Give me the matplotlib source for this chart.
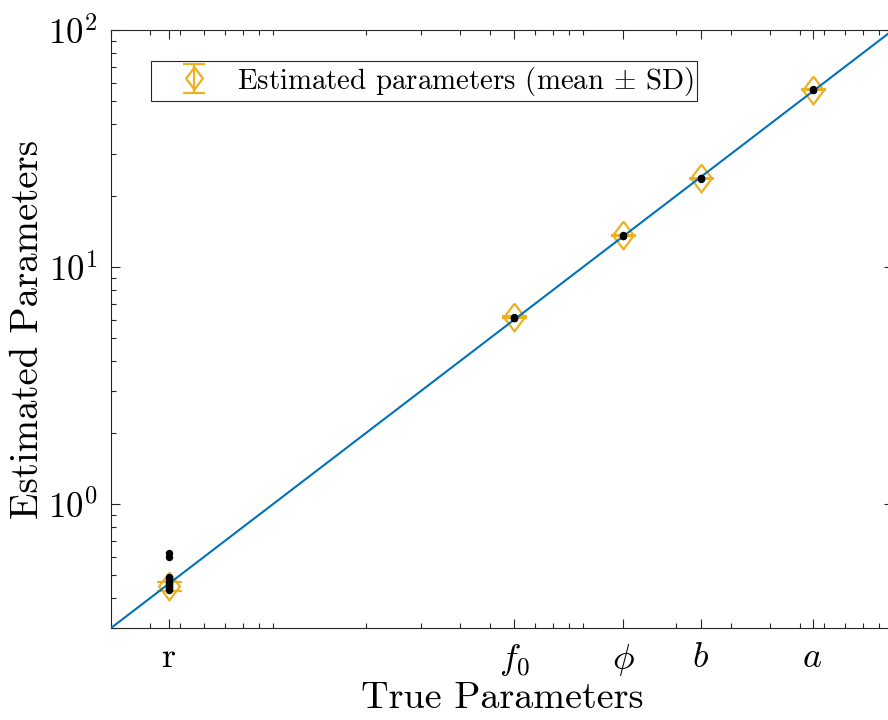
import numpy as np
import matplotlib
matplotlib.use("Agg")
import matplotlib.pyplot as plt
from matplotlib.ticker import FixedLocator, LogLocator, NullFormatter

plt.rcParams['font.family'] = 'serif'
plt.rcParams['font.serif'] = ['cmr10', 'DejaVu Serif']
plt.rcParams['mathtext.fontset'] = 'cm'
plt.rcParams['axes.formatter.use_mathtext'] = True
plt.rcParams['axes.unicode_minus'] = False

# ---- data ----
param_labels = ['r', r'$f_0$', r'$\phi$', r'$b$', r'$a$']
true_values = [0.46, 6.0, 13.5, 24.0, 55.0]
est_mean = [0.449, 6.15, 13.6, 23.7, 56.0]
est_sd = [0.02, 0.05, 0.08, 0.1, 0.2]
est_r = [0.436, 0.440, 0.444, 0.448, 0.452, 0.456, 0.460, 0.465, 0.470, 0.476, 0.483, 0.490, 0.598, 0.622]
est_f0 = [6.08, 6.1, 6.12, 6.15]
est_phi = [13.5, 13.55, 13.6]
est_b = [23.6, 23.7, 23.8]
est_a = [55.6, 56.0, 56.3]
est_samples = [est_r, est_f0, est_phi, est_b, est_a]
ref_line = [0.3, 100.0]

blue = '#0072BD'
orange = '#EDB120'
spine_col = '#262626'

fig = plt.figure(figsize=(8.88, 7.2), dpi=100)
ax = fig.add_axes([111/888, 92/720, 782/888, 598/720])

diamond = [(0, 1), (0.75, 0), (0, -1), (-0.75, 0), (0, 1)]
ax.errorbar(true_values, est_mean, yerr=est_sd, fmt='none', ecolor=orange,
            elinewidth=1.5, capsize=9, capthick=1.5, zorder=2)
ax.plot(true_values, est_mean, linestyle='none', marker=diamond, markersize=20,
        markerfacecolor='none', markeredgecolor=orange, markeredgewidth=1.6, zorder=2)
ax.plot(ref_line, ref_line, color=blue, lw=1.5, zorder=3)
for tv, samples in zip(true_values, est_samples):
    ax.plot([tv] * len(samples), samples, linestyle='none', marker='o',
            markersize=4.3, color='black', zorder=4)

# legend proxy (not visible in the data area)
leg_eb = ax.errorbar([np.nan], [np.nan], yerr=[1], linestyle='none', marker=diamond,
                     markersize=16, markerfacecolor='none', markeredgecolor=orange,
                     markeredgewidth=1.6, ecolor=orange, elinewidth=1.5, capsize=8,
                     capthick=1.5, color=orange)
leg = ax.legend([leg_eb], ['Estimated parameters (mean $\\pm$ SD)'],
                loc='upper left', bbox_to_anchor=(0.0512, 0.948), borderaxespad=0,
                fontsize=20.8, frameon=True, fancybox=False, framealpha=1,
                edgecolor=spine_col, handlelength=2.75, handletextpad=0.1,
                borderpad=0.12)
leg.get_frame().set_linewidth(0.8)

ax.set_xscale('log')
ax.set_yscale('log')
ax.set_xlim(0.3, 100)
ax.set_ylim(0.3, 100)

ax.xaxis.set_major_locator(FixedLocator(true_values))
ax.set_xticklabels(param_labels)
ax.xaxis.set_minor_locator(LogLocator(base=10, subs=np.arange(1, 10), numticks=50))
ax.xaxis.set_minor_formatter(NullFormatter())
ax.yaxis.set_major_locator(LogLocator(base=10, numticks=10))
ax.yaxis.set_minor_locator(LogLocator(base=10, subs=np.arange(2, 10), numticks=50))
ax.yaxis.set_minor_formatter(NullFormatter())

ax.tick_params(which='both', direction='in', top=True, right=True, color=spine_col,
               width=0.8)
ax.tick_params(which='major', length=6.5, pad=10)
ax.tick_params(axis='y', which='major', labelsize=25)
ax.tick_params(axis='x', which='major', labelsize=26)
ax.tick_params(which='minor', length=3.5)
for sp in ax.spines.values():
    sp.set_color(spine_col)
    sp.set_linewidth(0.8)

ax.set_xlabel('True Parameters', fontsize=27.5, labelpad=3)
ax.set_ylabel('Estimated Parameters', fontsize=28, labelpad=1)

fig.savefig('out.png', dpi=100)
